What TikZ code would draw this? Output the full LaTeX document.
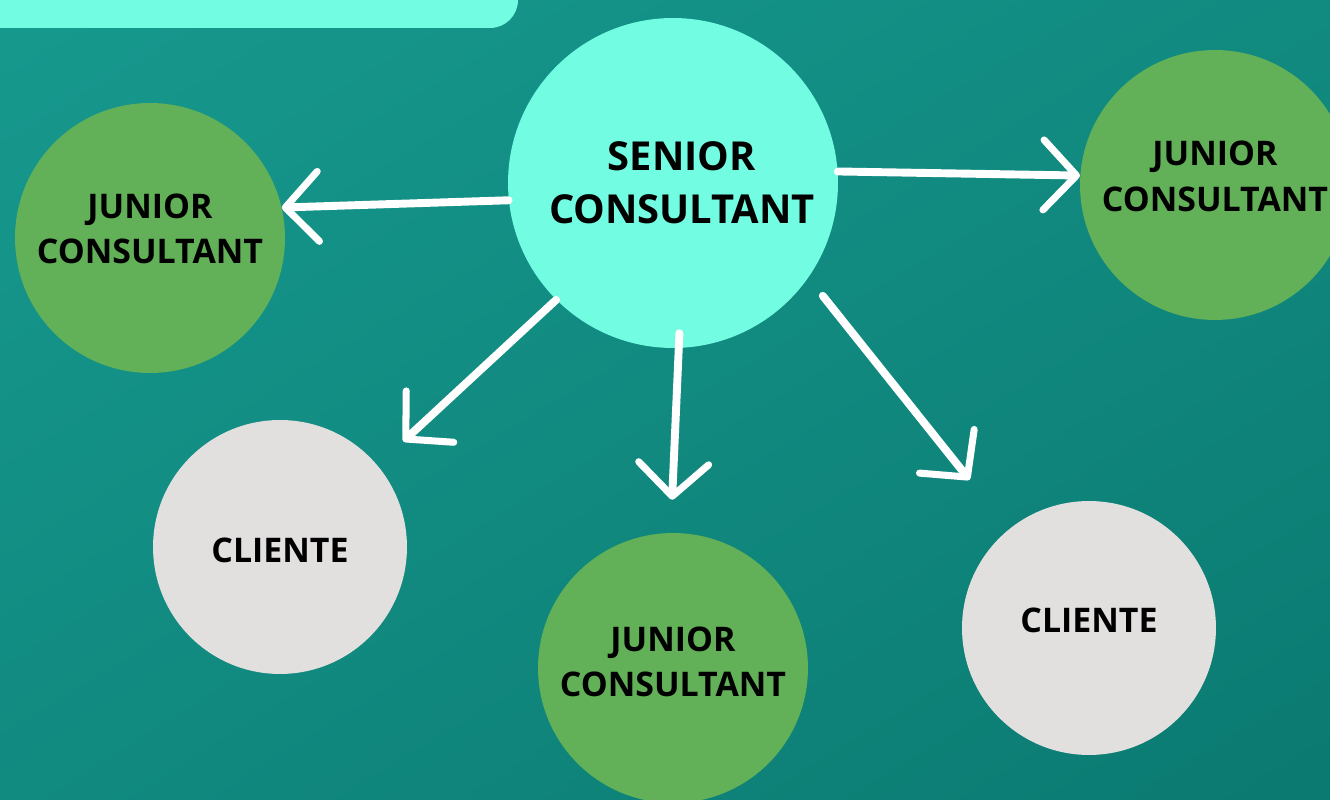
\documentclass[tikz,border=0pt]{standalone}
\usepackage{fontspec}
\setmainfont{Open Sans}
\usepackage{tikz}
\usetikzlibrary{arrows.meta}
\usetikzlibrary{shadings}

\definecolor{tealA}{HTML}{17998E}
\definecolor{tealB}{HTML}{118A80}
\definecolor{tealC}{HTML}{0B7A71}
\definecolor{mint}{HTML}{72FCE1}
\definecolor{leaf}{HTML}{62B057}
\definecolor{stone}{HTML}{E2DFDF}

\begin{document}
\begin{tikzpicture}[x=0.02cm, y=-0.02cm]
    \tikzstyle{disc}=[circle,inner sep=0pt]
    \tikzstyle{lbl}=[align=center,text=black,inner sep=0pt,
      font=\bfseries\fontsize{19.3}{26}\selectfont]
    \tikzstyle{junior}=[disc,fill=leaf,minimum size=5.4cm]
    \tikzstyle{cliente}=[disc,fill=stone,minimum size=5.08cm]
    \useasboundingbox (0,0) rectangle (1330,800);
    \clip (0,0) rectangle (1330,800);
    \shade[upper left=tealA,upper right=tealB,lower left=tealB,lower right=tealC]
      (0,0) rectangle (1330,800);
    \fill[mint,rounded corners=0.56cm] (-60,-60) rectangle (518,28);
    % centre and the five around it
    \node[disc,fill=mint,minimum size=6.6cm,
      label={[lbl,xshift=0.18cm,font=\bfseries\fontsize{22.7}{30}\selectfont]center:SENIOR\\CONSULTANT}]
      (S) at (673,183) {};
    \node[junior,label={[lbl,yshift=0.18cm]center:JUNIOR\\CONSULTANT}] (JL) at (150,238) {};
    \node[junior,label={[lbl,yshift=0.17cm]center:JUNIOR\\CONSULTANT}] (JR) at (1215,185) {};
    \node[junior,label={[lbl,yshift=0.12cm]center:JUNIOR\\CONSULTANT}] (JB) at (673,668) {};
    \node[cliente,label={[lbl,yshift=-0.06cm]center:CLIENTE}] (CL) at (280,547) {};
    \node[cliente,label={[lbl,yshift=0.16cm]center:CLIENTE}] (CR) at (1089,628) {};
    \path[white,line width=4.5pt,line cap=round,
      -{Straight Barb[length=0.66cm,width=1.4cm,line width=4pt,round]}]
    (S.186) edge (JL.13)
    (S.4) edge (JR.176)
    (S.225) edge [shorten >=0.7cm] (CL.40)
    (S.-88) edge [shorten <=-0.3cm,shorten >=0.66cm] (JB.91)
    (S.-35) edge [shorten <=0.46cm,shorten >=1.26cm] (CR.129) ;
\end{tikzpicture}
\end{document}
